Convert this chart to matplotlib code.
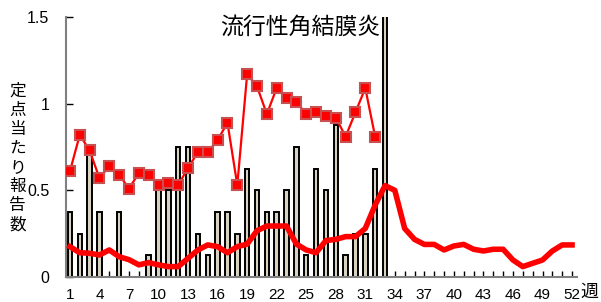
import matplotlib
matplotlib.use('Agg')
import matplotlib.pyplot as plt
import numpy as np

plt.rcParams['font.family'] = ['Liberation Sans', 'Noto Sans CJK JP']

# 週
weeks = np.arange(1, 53)
# 今年の定点当たり報告数（棒, 1-33週）
bar_weeks = np.arange(1, 34)
bar_vals = [0.375, 0.25, 0.75, 0.375, 0, 0.375, 0, 0, 0.125, 0.5, 0.5, 0.75,
            0.75, 0.25, 0.125, 0.375, 0.375, 0.25, 0.625, 0.5, 0.375, 0.375,
            0.5, 0.75, 0.125, 0.625, 0.5, 0.875, 0.125, 0.25, 0.25, 0.625, 1.75]
# 前年（マーカー付き線, 1-32週）
prev_weeks = np.arange(1, 33)
prev_vals = [0.61, 0.82, 0.73, 0.57, 0.64, 0.59, 0.51, 0.60, 0.59, 0.53, 0.54,
             0.53, 0.63, 0.72, 0.72, 0.79, 0.89, 0.53, 1.17, 1.10, 0.94, 1.09,
             1.03, 1.01, 0.94, 0.95, 0.93, 0.92, 0.81, 0.95, 1.09, 0.81]
# 過去5年平均（太線）
avg_vals = [0.175, 0.14, 0.137, 0.127, 0.156, 0.117, 0.10, 0.07, 0.083, 0.07,
            0.06, 0.06, 0.108, 0.156, 0.185, 0.175, 0.14, 0.175, 0.19, 0.267,
            0.294, 0.294, 0.294, 0.19, 0.156, 0.14, 0.21, 0.217, 0.233, 0.233,
            0.28, 0.415, 0.527, 0.50, 0.28, 0.217, 0.188, 0.188, 0.156, 0.179,
            0.188, 0.16, 0.15, 0.16, 0.16, 0.098, 0.06, 0.079, 0.098, 0.15,
            0.185, 0.185]

fig = plt.figure(figsize=(6.01, 3.02), dpi=100)
ax = fig.add_axes([0.1098, 0.0828, 0.8502, 0.8609])

ax.bar(bar_weeks, bar_vals, width=0.45, color='#d8d3c0', edgecolor='black',
       linewidth=1.4, zorder=2)
ax.plot(weeks, avg_vals, color='#ff0000', lw=4, solid_joinstyle='round',
        zorder=3)
ax.plot(prev_weeks, prev_vals, color='#ff0000', lw=1.6, marker='s',
        markersize=6.5, markerfacecolor='#ff0000', markeredgecolor='#c85050',
        markeredgewidth=1.5, zorder=4)

ax.set_xlim(0.6, 52.5)
ax.set_ylim(0, 1.5)
ax.set_yticks([0, 0.5, 1, 1.5])
ax.set_yticklabels(['0', '0.5', '1', '1.5'])
ax.set_xticks(np.arange(1, 53, 3))
ax.set_xticks(weeks, minor=True)
ax.tick_params(axis='x', which='both', direction='in', length=4, width=1,
               labelsize=11, pad=8, color='black')
ax.tick_params(axis='y', direction='in', length=5, width=1, labelsize=11.5,
               pad=12, color='black')

for s in ['top', 'right']:
    ax.spines[s].set_visible(False)
for s in ['left', 'bottom']:
    ax.spines[s].set_color('#808080')
    ax.spines[s].set_linewidth(1.5)

fig.text(0.632, 0.911, '流行性角結膜炎', ha='right', va='center', fontsize=16.5,
         family=['Noto Sans CJK JP'])
fig.text(0.029, 0.477, '\n'.join('定点当たり報告数'), ha='center', va='center',
         fontsize=12, linespacing=1.16, family=['Noto Sans CJK JP'])
fig.text(0.98, 0.035, '週', ha='center', va='center', fontsize=13,
         family=['Noto Sans CJK JP'])

fig.savefig('out.png', dpi=100)
